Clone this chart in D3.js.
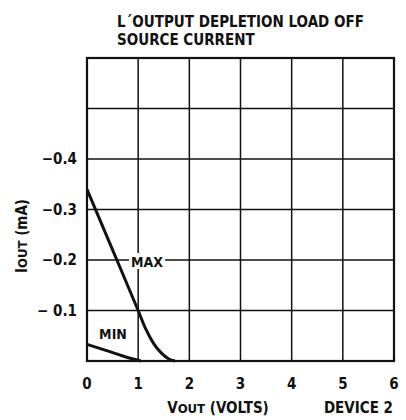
<!DOCTYPE html>
<html>
<head>
<meta charset="utf-8">
<script src="https://cdn.jsdelivr.net/npm/d3@7"></script>
<style>
body { margin: 0; background: #fff; }
svg text { font-family: "DejaVu Sans Condensed", "Liberation Sans Narrow", sans-serif; font-weight: bold; fill: #111; }
</style>
</head>
<body>
<div id="chart"></div>
<script>
// chart values
var xTicks = [0, 1, 2, 3, 4, 5, 6];
var yGrid = [0, -0.1, -0.2, -0.3, -0.4, -0.5, -0.6];
var yTicks = [-0.1, -0.2, -0.3, -0.4];
var yTickLabels = ["\u2212 0.1", "\u22120.2", "\u22120.3", "\u22120.4"];

var maxV = [0, 0.5, 1.0, 1.15, 1.3, 1.45, 1.6, 1.72];
var maxI = [-0.34, -0.22, -0.1, -0.063, -0.035, -0.016, -0.004, 0];
var minV = [0, 0.4, 0.7, 0.9, 1.05];
var minI = [-0.033, -0.02, -0.01, -0.004, 0];

var width = 406, height = 420;

var svg = d3.select("#chart").append("svg")
	.attr("width", width)
	.attr("height", height);

var x = d3.scaleLinear().domain([0, 6]).range([87, 394]);
var y = d3.scaleLinear().domain([0, -0.6]).range([361, 58]);

// grid
var grid = svg.append("g");
grid.selectAll(".vline")
	.data(xTicks)
	.enter().append("line")
	.attr("x1", function(d) { return x(d); })
	.attr("x2", function(d) { return x(d); })
	.attr("y1", y(0))
	.attr("y2", y(-0.6))
	.attr("stroke", "#111")
	.attr("stroke-width", 1.5);

grid.selectAll(".hline")
	.data(yGrid)
	.enter().append("line")
	.attr("x1", x(0))
	.attr("x2", x(6))
	.attr("y1", function(d) { return y(d); })
	.attr("y2", function(d) { return y(d); })
	.attr("stroke", "#111")
	.attr("stroke-width", 1.5);

svg.append("rect")
	.attr("x", x(0))
	.attr("y", y(-0.6))
	.attr("width", x(6) - x(0))
	.attr("height", y(0) - y(-0.6))
	.attr("fill", "none")
	.attr("stroke", "#111")
	.attr("stroke-width", 2.2);

// tick labels
svg.selectAll(".xt")
	.data(xTicks)
	.enter().append("text")
	.attr("x", function(d) { return x(d); })
	.attr("y", 389)
	.attr("text-anchor", "middle")
	.attr("font-size", 15)
	.text(function(d) { return d; });

svg.selectAll(".yt")
	.data(yTicks)
	.enter().append("text")
	.attr("x", 77)
	.attr("y", function(d) { return y(d) + 5; })
	.attr("text-anchor", "end")
	.attr("font-size", 15)
	.text(function(d, i) { return yTickLabels[i]; });

// curves
var line = d3.line()
	.x(function(d) { return x(d[0]); })
	.y(function(d) { return y(d[1]); })
	.curve(d3.curveMonotoneX);

svg.append("path")
	.datum(d3.zip(maxV, maxI))
	.attr("d", line)
	.attr("fill", "none")
	.attr("stroke", "#111")
	.attr("stroke-width", 3);

svg.append("path")
	.datum(d3.zip(minV, minI))
	.attr("d", line)
	.attr("fill", "none")
	.attr("stroke", "#111")
	.attr("stroke-width", 3);

// curve labels
svg.append("rect")
	.attr("x", 129).attr("y", 253).attr("width", 36).attr("height", 16)
	.attr("fill", "#fff");
svg.append("text")
	.attr("x", 147).attr("y", 267)
	.attr("text-anchor", "middle")
	.attr("font-size", 14)
	.text("MAX");

svg.append("text")
	.attr("x", 113).attr("y", 339)
	.attr("text-anchor", "middle")
	.attr("font-size", 14)
	.text("MIN");

// title
svg.append("text")
	.attr("x", 117).attr("y", 27)
	.attr("font-size", 15)
	.text("L\u00B4OUTPUT DEPLETION LOAD OFF");
svg.append("text")
	.attr("x", 117).attr("y", 45)
	.attr("font-size", 15)
	.text("SOURCE CURRENT");

// axis titles
var xt = svg.append("text")
	.attr("x", 218).attr("y", 413)
	.attr("text-anchor", "middle")
	.attr("font-size", 15);
xt.append("tspan").text("V");
xt.append("tspan").attr("font-size", 13).text("OUT");
xt.append("tspan").text(" (VOLTS)");

svg.append("text")
	.attr("x", 393).attr("y", 413)
	.attr("text-anchor", "end")
	.attr("font-size", 15)
	.text("DEVICE 2");

var yt = svg.append("text")
	.attr("transform", "translate(27,236) rotate(-90)")
	.attr("text-anchor", "middle")
	.attr("font-size", 15);
yt.append("tspan").text("I");
yt.append("tspan").attr("font-size", 13).text("OUT");
yt.append("tspan").text(" (mA)");
</script>
</body>
</html>
